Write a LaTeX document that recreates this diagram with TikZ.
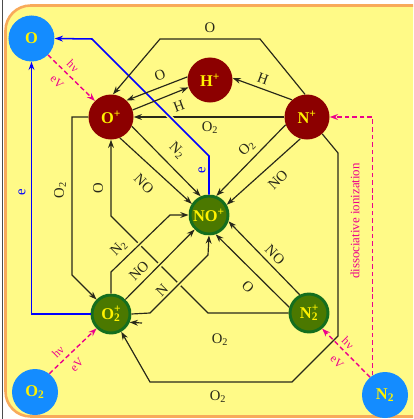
\documentclass[tikz,border=0pt]{standalone}
\usepackage{fontspec}
\setmainfont{Liberation Serif}
\usetikzlibrary{arrows.meta}
\definecolor{bgyellow}{RGB}{255,250,135}
\definecolor{frameorange}{RGB}{248,170,90}
\definecolor{neutblue}{RGB}{20,140,255}
\definecolor{ionred}{RGB}{140,0,0}
\definecolor{ionolive}{RGB}{75,120,0}
\definecolor{iongreen}{RGB}{20,110,30}
\definecolor{reacline}{RGB}{40,40,25}
\begin{document}
\begin{tikzpicture}[x=0.03cm, y=-0.03cm, >={Stealth[length=7pt,width=5pt]}]
    \tikzset{species/.style={circle, inner sep=0pt, text=yellow, font=\fontsize{14}{14}\selectfont\bfseries},
        neutral/.style={species, fill=neutblue, minimum size=1.38cm},
        redion/.style={species, fill=ionred, minimum size=1.35cm},
        greenion/.style={species, fill=ionolive, draw=iongreen, line width=2.5pt, minimum size=1.14cm},
        lbl/.style={font=\fontsize{12.5}{12.5}\selectfont, inner sep=1pt, text=reacline},
        plbl/.style={font=\fontsize{10}{10}\selectfont, inner sep=1pt, text=magenta},
        reac/.style={draw=reacline, line width=1pt, ->},
        elec/.style={draw=blue, line width=1.3pt, ->},
        photo/.style={draw=magenta, line width=1.2pt, dash pattern=on 4pt off 2.5pt, ->},
        gap/.style={preaction={draw=bgyellow, line width=4pt, -}}}
    \useasboundingbox (0,0) rectangle (413,419);
    \clip (0,0) rectangle (413,419);
    % frame
    \draw[frameorange, line width=2.2pt, fill=bgyellow, rounded corners=0.75cm] (5.5,5.5) rectangle (440,416.5);
    \draw[gray!60!black, line width=0.8pt] (2.5,0) -- (2.5,419);
    % species
    \node[neutral] (o) at (31.5,38.5) {O};
    \node[redion] (oplus) at (111,117) {O\textsuperscript{+}};
    \node[redion] (hplus) at (210,80) {H\textsuperscript{+}};
    \node[redion] (nplus) at (307,117) {N\textsuperscript{+}};
    \node[greenion] (noplus) at (209,215) {NO\textsuperscript{+}};
    \node[greenion] (o2plus) at (111,314) {O\rlap{\textsuperscript{+}}\textsubscript{2}};
    \node[greenion] (n2plus) at (309,313) {N\rlap{\textsuperscript{+}}\textsubscript{2}};
    \node[neutral] (otwo) at (35,392) {O\textsubscript{2}};
    \node[neutral] (ntwo) at (385,395) {N\textsubscript{2}};
    % reactions among the ions
    \draw[reac] (nplus) -- (oplus);
    \draw[elec, gap] (noplus.north) -- (209,156) -- (92,39) -- (o.east);
    \draw[reac] (nplus.95) -- (260,39) -- (160,39) -- (oplus.85);
    \draw[reac] (hplus.172) -- (oplus.47);
    \draw[reac] (oplus.18) -- (hplus.199);
    \draw[reac] (nplus.131) -- (hplus.5);
    \draw[reac] (oplus.-24) -- (noplus.114);
    \draw[reac] (oplus.-67) -- (noplus.147);
    \draw[reac] (nplus.200) -- (noplus.69);
    \draw[reac] (nplus.253) -- (noplus.30);
    \draw[reac] (n2plus.117) -- (noplus.-18);
    \draw[reac] (n2plus.164) -- (noplus.-71);
    \draw[reac] (n2plus.west) -- (208,313) -- (111,216) -- (oplus.south);
    \draw[reac, gap] (o2plus.north) -- (111,272) -- (170,215) -- (noplus.west);
    \draw[reac, gap] (o2plus) -- (noplus);
    \draw[reac, gap] (o2plus.east) -- (150,313) -- (208,255) -- (noplus.south);
    \draw[reac] (oplus.west) -- (72,117) -- (72,275) -- (o2plus.135);
    \draw[reac] (nplus.-48) -- (338,153) -- (338,336) -- (292,382) -- (150,382) -- (o2plus.-60);
    \coordinate (o2stub) at (142,323);
    \draw[reac] (o2stub) -- (o2plus.-24);
    \draw[elec] (o2plus.west) -| (o.south);
    % ionisation of the neutrals
    \draw[photo] (o.-45) -- (oplus.135);
    \draw[photo] (otwo.52) -- (o2plus.225);
    \draw[photo] (ntwo.130) -- (n2plus.-50);
    \draw[photo] (ntwo.122) |- (nplus.east);
    % labels
    \node[lbl] (lotop) at (210,28) {O};
    \node[lbl, rotate=20] (lohplus) at (160,75) {O};
    \node[lbl, rotate=20] (lhoplus) at (179,106) {H};
    \node[lbl, rotate=-20] (lhnplus) at (263,79) {H};
    \node[lbl] (lo2nplus) at (210,128) {O\textsubscript{2}};
    \node[lbl, rotate=-45] (ln2oplus) at (177,151) {N\textsubscript{2}};
    \node[lbl, rotate=-45] (lnooplus) at (144,184) {NO};
    \node[lbl, rotate=45] (lo2noplus) at (247,148) {O\textsubscript{2}};
    \node[lbl, rotate=45] (lnonplus) at (278,180) {NO};
    \node[lbl, rotate=-45] (lnon2plus) at (275,255) {NO};
    \node[lbl, rotate=-45] (lon2plus) at (248,287) {O};
    \node[lbl, rotate=45] (ln2o2plus) at (119,248) {N\textsubscript{2}};
    \node[lbl, rotate=45] (lnoo2plus) at (139,271) {NO};
    \node[lbl, rotate=45] (lno2plus) at (162,290) {N};
    \node[lbl, rotate=90] (lo2left) at (60,190) {O\textsubscript{2}};
    \node[lbl, rotate=90] (loleft) at (98,188) {O};
    \node[lbl] (lo2mid) at (220,340) {O\textsubscript{2}};
    \node[lbl] (lo2bot) at (218,397) {O\textsubscript{2}};
    \node[lbl, text=blue, rotate=90] (leleft) at (22,192) {e};
    \node[lbl, text=blue, rotate=90] (lemid) at (202,170) {e};
    \node[plbl, rotate=-45] (lhvo) at (73,66) {hν};
    \node[plbl, rotate=-45] (levo) at (57,82) {eV};
    \node[plbl, rotate=45] (lhvotwo) at (58,352) {hν};
    \node[plbl, rotate=45] (levotwo) at (77,365) {eV};
    \node[plbl, rotate=-45] (lhvntwo) at (348,343) {hν};
    \node[plbl, rotate=-45] (levntwo) at (337,362) {eV};
    \node[plbl, font=\fontsize{11}{11}\selectfont, rotate=90] (ldissoc) at (355,221) {dissociative ionization};
\end{tikzpicture}
\end{document}
